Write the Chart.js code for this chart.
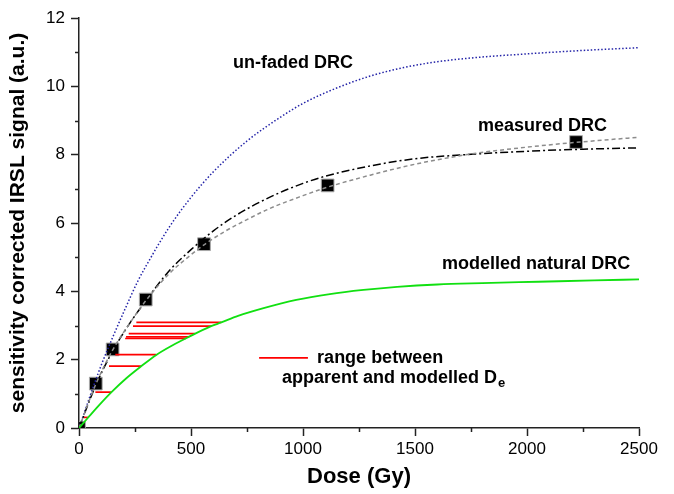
<!DOCTYPE html>
<html>
<head>
<meta charset="utf-8">
<script src="https://cdn.jsdelivr.net/npm/chart.js@4/dist/chart.umd.min.js"></script>
<style>
    html, body { margin: 0; padding: 0; background: #fff; }
</style>
</head>
<body>
<canvas id="drc-chart" width="674" height="494"></canvas>
<script>
/* Dose response curves: un-faded, measured and modelled natural */

// Dose axis (Gy) and signal values.
var unfadedDose    = [0, 25, 50, 100, 150, 200, 265, 300, 400, 500, 600, 750, 900, 1000, 1150, 1300, 1450, 1600, 1750, 2000, 2250, 2500];
var unfadedSignal  = [0, 0.47, 0.95, 1.85, 2.65, 3.4, 4.33, 4.75, 5.85, 6.75, 7.5, 8.4, 9.1, 9.5, 9.95, 10.3, 10.55, 10.72, 10.83, 10.95, 11.05, 11.13];

var measuredDose   = [0, 75, 150, 225, 300, 400, 500, 600, 700, 850, 1000, 1100, 1300, 1500, 1750, 2000, 2250, 2500];
var measuredSignal = [0, 1.25, 2.25, 3.05, 3.74, 4.58, 5.22, 5.77, 6.22, 6.75, 7.16, 7.37, 7.67, 7.88, 8.01, 8.1, 8.16, 8.2];

var fitDose        = [0, 75, 150, 225, 300, 400, 500, 560, 650, 750, 850, 1000, 1110, 1300, 1500, 1750, 2000, 2220, 2500];
var fitSignal      = [0, 1.28, 2.28, 3.05, 3.74, 4.5, 5.07, 5.37, 5.75, 6.1, 6.42, 6.8, 7.05, 7.4, 7.72, 8.02, 8.22, 8.36, 8.51];

var naturalDose    = [0, 40, 90, 145, 210, 280, 345, 420, 485, 590, 635, 710, 820, 970, 1120, 1270, 1420, 1600, 1800, 2050, 2300, 2500];
var naturalSignal  = [0, 0.3, 0.67, 1.05, 1.45, 1.82, 2.14, 2.43, 2.65, 2.98, 3.09, 3.28, 3.5, 3.75, 3.92, 4.04, 4.13, 4.2, 4.24, 4.28, 4.32, 4.35];

var pointDose      = [0, 75, 150, 298, 558, 1110, 2219];
var pointSignal    = [0, 1.3, 2.3, 3.76, 5.38, 7.1, 8.37];

// Red segments: apparent De -> modelled De at a given signal level.
var rangeLevel     = [3.09, 2.98, 2.76, 2.67, 2.62, 2.15, 1.81, 1.05, 0.31];
var rangeFrom      = [256, 241, 222, 210, 206, 162, 134, 73, 22];
var rangeTo        = [635, 590, 518, 492, 478, 345, 278, 145, 41];

var xTickStep = 500;
var yTickStep = 2;

var FONT = '"Liberation Sans", Arial, sans-serif';
var RED  = '#ff0000';

function toXY(xs, ys) {
    return xs.map(function (x, i) { return { x: x, y: ys[i] }; });
}

function lineSet(label, xs, ys, color, dash, width) {
    return {
        label:            label,
        data:             toXY(xs, ys),
        showLine:         true,
        borderColor:      color,
        borderWidth:      width,
        borderDash:       dash,
        pointRadius:      0,
        cubicInterpolationMode: 'monotone',
        order:            1,
    };
}

var datasets = [];

// Squares drawn underneath the curves (higher order).
datasets.push({
    label:           'measured',
    data:            toXY(pointDose, pointSignal),
    pointStyle:      'rect',
    pointRadius:     9,
    backgroundColor: '#000',
    borderColor:     '#aaa',
    borderWidth:     1,
    showLine:        false,
    order:           10,
});

rangeLevel.forEach(function (lvl, i) {
    datasets.push({
        label:       'range ' + i,
        data:        [{ x: rangeFrom[i], y: lvl }, { x: rangeTo[i], y: lvl }],
        showLine:    true,
        borderColor: RED,
        borderWidth: 1.7,
        pointRadius: 0,
        order:       5,
    });
});

datasets.push(lineSet('modelled natural DRC', naturalDose, naturalSignal, '#11e011', [], 1.8));
datasets.push(lineSet('fit', fitDose, fitSignal, '#8c8c8c', [4, 3], 1.5));
datasets.push(lineSet('measured DRC', measuredDose, measuredSignal, '#000', [8, 3, 2, 3], 1.5));
datasets.push(lineSet('un-faded DRC', unfadedDose, unfadedSignal, '#2323a8', [1.5, 2], 1.5));

// Minor ticks between the labelled ones.
var minorTicks = {
    id: 'minorTicks',
    afterDraw: function (chart) {
        var ctx = chart.ctx, xs = chart.scales.x, ys = chart.scales.y;
        var bottom = chart.chartArea.bottom, left = chart.chartArea.left;
        ctx.save();
        ctx.strokeStyle = '#222';
        ctx.lineWidth = 1.5;
        ctx.beginPath();
        for (var v = xTickStep / 2; v < xs.max; v += xTickStep) {
            var px = Math.round(xs.getPixelForValue(v)) + 0.5;
            ctx.moveTo(px, bottom);
            ctx.lineTo(px, bottom + 4);
        }
        for (var w = yTickStep / 2; w < ys.max; w += yTickStep) {
            var py = Math.round(ys.getPixelForValue(w)) + 0.5;
            ctx.moveTo(left, py);
            ctx.lineTo(left - 4, py);
        }
        ctx.stroke();
        ctx.restore();
    },
};

// Curve names and the red-line key.
var curveLabels = {
    id: 'curveLabels',
    afterDatasetsDraw: function (chart) {
        var ctx = chart.ctx, xs = chart.scales.x, ys = chart.scales.y;
        function px(d) { return xs.getPixelForValue(d); }
        function py(s) { return ys.getPixelForValue(s); }

        ctx.save();
        ctx.fillStyle = '#000';
        ctx.textAlign = 'left';
        ctx.textBaseline = 'middle';
        ctx.font = 'bold 18px ' + FONT;

        ctx.fillText('un-faded DRC', px(688), py(10.68));
        ctx.fillText('measured DRC', px(1781), py(8.84));
        ctx.fillText('modelled natural DRC', px(1621), py(4.80));

        // key
        ctx.strokeStyle = RED;
        ctx.lineWidth = 1.7;
        ctx.beginPath();
        ctx.moveTo(px(804), py(2.05));
        ctx.lineTo(px(1022), py(2.05));
        ctx.stroke();

        ctx.fillText('range between', px(1063), py(2.05));
        var t = 'apparent and modelled D';
        var x0 = px(906), y0 = py(1.46);
        ctx.fillText(t, x0, y0);
        var w = ctx.measureText(t).width;
        ctx.font = 'bold 13px ' + FONT;
        ctx.fillText('e', x0 + w + 1, y0 + 5);
        ctx.restore();
    },
};

function plainTick(value) { return String(value); }

new Chart(document.getElementById('drc-chart'), {
    type: 'scatter',
    data: { datasets: datasets },
    options: {
        responsive: false,
        animation:  false,
        layout: { padding: { left: 0, top: 18, right: 35, bottom: 0 } },
        plugins: {
            legend:  { display: false },
            tooltip: { enabled: false },
        },
        scales: {
            x: {
                type: 'linear',
                min: 0,
                max: 2500,
                afterFit: function (scale) { scale.height = 66; },
                ticks: {
                    stepSize: xTickStep,
                    color: '#000',
                    padding: 3,
                    font: { family: FONT, size: 17 },
                    callback: plainTick,
                },
                grid: {
                    drawOnChartArea: false,
                    drawTicks: true,
                    tickLength: 8,
                    tickWidth: 1.5,
                    tickColor: '#222',
                },
                border: { display: true, color: '#222', width: 1.5 },
                title: {
                    display: true,
                    text: 'Dose (Gy)',
                    color: '#000',
                    font: { family: FONT, size: 22, weight: 'bold' },
                    padding: { top: 2, bottom: 4 },
                },
            },
            y: {
                type: 'linear',
                min: 0,
                max: 12,
                afterFit: function (scale) { scale.width = 79; },
                ticks: {
                    stepSize: yTickStep,
                    color: '#000',
                    padding: 6,
                    font: { family: FONT, size: 17 },
                    callback: plainTick,
                },
                grid: {
                    drawOnChartArea: false,
                    drawTicks: true,
                    tickLength: 8,
                    tickWidth: 1.5,
                    tickColor: '#222',
                },
                border: { display: true, color: '#222', width: 1.5 },
                title: {
                    display: true,
                    text: 'sensitivity corrected IRSL signal (a.u.)',
                    color: '#000',
                    font: { family: FONT, size: 21, weight: 'bold' },
                    padding: { top: 6, bottom: 0 },
                },
            },
        },
    },
    plugins: [minorTicks, curveLabels],
});
</script>
</body>
</html>
